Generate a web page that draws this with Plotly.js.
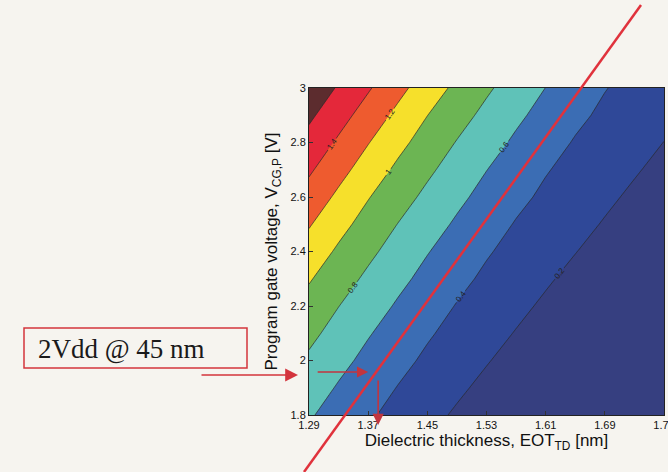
<!DOCTYPE html>
<html>
<head>
<meta charset="utf-8">
<script src="https://cdn.plot.ly/plotly-3.0.1.min.js"></script>
<style>
  html, body { margin: 0; padding: 0; background: #f6f4ef; }
  #chart { width: 668px; height: 472px; }
</style>
</head>
<body>
<div id="chart"></div>
<script>
// Dielectric thickness EOT_TD [nm] (grid columns)
var eotValues = [1.29, 1.33, 1.37, 1.41, 1.45, 1.49, 1.53, 1.57, 1.61, 1.65, 1.69, 1.73, 1.77];
// Program gate voltage V_CG,P [V] (grid rows)
var vcgValues = [1.8, 1.9, 2.0, 2.1, 2.2, 2.3, 2.4, 2.5, 2.6, 2.7, 2.8, 2.9, 3.0];
// Contoured quantity (one row per voltage)
var zRow18 = [0.620, 0.521, 0.426, 0.340, 0.258, 0.175, 0.093, 0.05, 0.05, 0.05, 0.05, 0.05, 0.05];
var zRow19 = [0.694, 0.583, 0.488, 0.394, 0.314, 0.234, 0.154, 0.074, 0.05, 0.05, 0.05, 0.05, 0.05];
var zRow20 = [0.769, 0.654, 0.550, 0.455, 0.367, 0.289, 0.212, 0.134, 0.056, 0.05, 0.05, 0.05, 0.05];
var zRow21 = [0.848, 0.729, 0.614, 0.517, 0.421, 0.342, 0.266, 0.191, 0.115, 0.05, 0.05, 0.05, 0.05];
var zRow22 = [0.931, 0.803, 0.689, 0.579, 0.483, 0.391, 0.317, 0.244, 0.171, 0.097, 0.05, 0.05, 0.05];
var zRow23 = [1.017, 0.886, 0.763, 0.649, 0.545, 0.450, 0.366, 0.295, 0.223, 0.152, 0.080, 0.05, 0.05];
var zRow24 = [1.116, 0.970, 0.842, 0.723, 0.609, 0.512, 0.417, 0.343, 0.274, 0.205, 0.136, 0.067, 0.05];
var zRow25 = [1.216, 1.063, 0.925, 0.797, 0.683, 0.574, 0.479, 0.388, 0.321, 0.254, 0.187, 0.119, 0.052];
var zRow26 = [1.322, 1.162, 1.010, 0.880, 0.757, 0.643, 0.540, 0.445, 0.366, 0.300, 0.234, 0.169, 0.103];
var zRow27 = [1.428, 1.265, 1.109, 0.963, 0.835, 0.717, 0.603, 0.507, 0.412, 0.344, 0.280, 0.216, 0.152];
var zRow28 = [1.532, 1.371, 1.208, 1.055, 0.918, 0.791, 0.677, 0.569, 0.474, 0.386, 0.323, 0.261, 0.198];
var zRow29 = [1.636, 1.476, 1.314, 1.154, 1.002, 0.874, 0.751, 0.637, 0.536, 0.440, 0.365, 0.304, 0.243];
var zRow30 = [1.740, 1.580, 1.420, 1.257, 1.101, 0.957, 0.829, 0.711, 0.598, 0.502, 0.407, 0.345, 0.285];

var xTickVals = [1.29, 1.37, 1.45, 1.53, 1.61, 1.69, 1.77];
var yTickVals = [1.8, 2.0, 2.2, 2.4, 2.6, 2.8, 3.0];
var bandColors = ['#363f80', '#2f4898', '#3b6db4', '#5fc2b8', '#6cb553', '#f6e02b', '#ee5b2f', '#e4283a', '#5c2c2e'];
var noteText = '2Vdd @ 45 nm';
var markerEOT = 1.37;   // operating point marked by the arrows

var zMatrix = [zRow18, zRow19, zRow20, zRow21, zRow22, zRow23, zRow24, zRow25, zRow26, zRow27, zRow28, zRow29, zRow30];

var colorscale = bandColors.map(function (c, i) { return [i / (bandColors.length - 1), c]; });

var trace = {
  type: 'contour',
  x: eotValues,
  y: vcgValues,
  z: zMatrix,
  colorscale: colorscale,
  showscale: false,
  contours: {
    start: 0.2, end: 1.6, size: 0.2,
    coloring: 'fill',
    showlabels: true,
    labelfont: { size: 8, color: '#222', family: 'Liberation Sans, Arial, sans-serif' }
  },
  line: { color: '#2a2a2a', width: 0.7, smoothing: 0 },
  hoverinfo: 'skip'
};

// pixel helpers for paper-referenced overlays (plot area 309..664 x 88..415)
var L = 309, R = 664, T = 88, B = 415;
function px(x) { return (x - L) / (R - L); }
function py(y) { return (B - y) / (B - T); }

var layout = {
  width: 668, height: 472,
  margin: { l: L, r: 668 - R, t: T, b: 472 - B, pad: 0 },
  paper_bgcolor: '#f6f4ef',
  plot_bgcolor: '#f6f4ef',
  showlegend: false,
  font: { family: 'Liberation Sans, Arial, sans-serif', color: '#1a1a1a' },
  xaxis: {
    range: [1.29, 1.77],
    tickvals: xTickVals,
    ticktext: xTickVals.map(function (v) { return v.toFixed(2); }),
    ticklabeloverflow: 'allow',
    ticks: 'inside', ticklen: 4, tickcolor: '#333',
    showline: true, linecolor: '#222', linewidth: 1, mirror: true,
    showgrid: false, zeroline: false,
    tickfont: { size: 11, color: '#111' },
    automargin: false,
    title: { text: 'Dielectric thickness, EOT<sub>TD</sub> [nm]', font: { size: 17, color: '#111' }, standoff: 3 }
  },
  yaxis: {
    range: [1.8, 3.0],
    tickvals: yTickVals,
    ticks: 'inside', ticklen: 4, tickcolor: '#333',
    showline: true, linecolor: '#222', linewidth: 1, mirror: true,
    showgrid: false, zeroline: false,
    tickfont: { size: 11, color: '#111' },
    automargin: false,
    title: { text: 'Program gate voltage, V<sub>CG,P</sub> [V]', font: { size: 17, color: '#111' }, standoff: 8 }
  },
  shapes: [
    { type: 'line', xref: 'paper', yref: 'paper',
      x0: px(641), y0: py(5), x1: px(304), y1: py(472),
      line: { color: '#e0323c', width: 2.5 } },
    { type: 'rect', xref: 'paper', yref: 'paper',
      x0: px(24), y0: py(368), x1: px(247), y1: py(328),
      line: { color: '#d3343d', width: 1.5 }, fillcolor: 'rgba(0,0,0,0)' }
  ],
  annotations: [
    { xref: 'paper', yref: 'paper', x: px(36), y: py(349), xanchor: 'left', yanchor: 'middle',
      text: noteText, showarrow: false,
      font: { family: 'Liberation Serif, Times New Roman, serif', size: 27, color: '#1a1a1a' } },
    { xref: 'paper', yref: 'paper', x: px(298), y: py(375), ax: -98, ay: 0,
      text: '', showarrow: true, arrowhead: 2, arrowsize: 1.6, arrowwidth: 1.6, arrowcolor: '#d3343d' },
    { xref: 'x', yref: 'paper', x: markerEOT, y: py(372), ax: -52, ay: 0,
      text: '', showarrow: true, arrowhead: 2, arrowsize: 1.4, arrowwidth: 1.6, arrowcolor: '#c2353f' },
    { xref: 'x', yref: 'paper', x: markerEOT + 0.0135, y: py(425), ax: 0, ay: -46,
      text: '', showarrow: true, arrowhead: 2, arrowsize: 1.4, arrowwidth: 1.6, arrowcolor: '#c2353f' }
  ]
};

Plotly.newPlot('chart', [trace], layout, { displayModeBar: false, staticPlot: true });
</script>
</body>
</html>
